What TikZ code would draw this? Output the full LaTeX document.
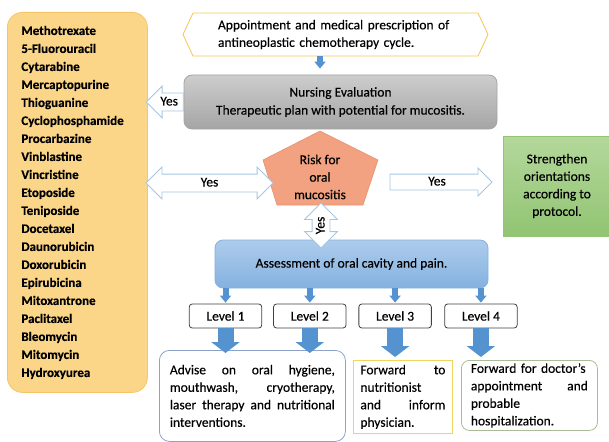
\documentclass[tikz,border=0pt]{standalone}
\usepackage{fontspec}
\setmainfont{Carlito}[FakeBold=0.4]
\usetikzlibrary{positioning,arrows.meta,shapes.arrows,shapes.symbols}

\definecolor{drugfill}{RGB}{251,214,137}
\definecolor{drugline}{RGB}{245,198,105}
\definecolor{apptline}{RGB}{240,198,85}
\definecolor{greytop}{RGB}{205,205,205}
\definecolor{greybot}{RGB}{165,165,165}
\definecolor{riskfill}{RGB}{242,162,128}
\definecolor{riskline}{RGB}{232,145,110}
\definecolor{greentop}{RGB}{180,216,155}
\definecolor{greenbot}{RGB}{145,196,115}
\definecolor{bluetop}{RGB}{174,204,236}
\definecolor{bluebot}{RGB}{132,177,223}
\definecolor{arrblue}{RGB}{84,146,208}
\definecolor{yesline}{RGB}{165,198,228}
\definecolor{advline}{RGB}{140,162,200}
\definecolor{nutline}{RGB}{240,212,95}
\definecolor{docline}{RGB}{172,186,152}

\tikzset{
  every node/.style={font=\fontsize{13.5}{17.5}\selectfont},
  box/.style={draw, line width=0.8pt, rounded corners=8pt, align=center, inner sep=0pt},
  level/.style={draw=black!75, line width=0.8pt, rounded corners=3pt, minimum width=72.5pt, minimum height=24pt, inner sep=0pt},
  outbox/.style={draw, line width=0.8pt, align=left, inner ysep=0pt, anchor=north west},
  bluearr/.style={arrblue, line width=6pt, -{Triangle[length=7pt,width=11pt]}},
  bigarr/.style={arrblue, line width=16pt, -{Triangle[length=11pt,width=28pt]}},
  yes/.style={draw=yesline, fill=white, line width=0.8pt, text height=8pt, text depth=1pt, inner xsep=0pt, inner ysep=4pt}
}

\begin{document}
\begin{tikzpicture}[x=1pt,y=-1pt]
\useasboundingbox (0,0) rectangle (609,441);

% drug list
\node[box, fill=drugfill, draw=drugline, rounded corners=15pt, anchor=north west,
  text width=112pt, inner xsep=14pt, minimum height=380pt, align=left,
  font=\bfseries\fontsize{13}{18}\selectfont] (drugs) at (7,12)
  {Methotrexate\\5-Fluorouracil\\Cytarabine\\Mercaptopurine\\Thioguanine\\Cyclophosphamide\\Procarbazine\\Vinblastine\\Vincristine\\Etoposide\\Teniposide\\Docetaxel\\Daunorubicin\\Doxorubicin\\Epirubicina\\Mitoxantrone\\Paclitaxel\\Bleomycin\\Mitomycin\\Hydroxyurea};

% main flow
\node[signal, signal to=west and east, signal pointer angle=130, draw=apptline, line width=0.8pt,
  minimum width=305pt, minimum height=43pt, text width=235pt, align=left, inner sep=0pt] (appt) at (335.5,34.5)
  {Appointment and medical prescription of\\antineoplastic chemotherapy cycle.};
\node[box, top color=greytop, bottom color=greybot, draw=greybot, minimum width=313pt, minimum height=54pt,
  font=\fontsize{13.5}{18}\selectfont] (nurse) at (340.5,102)
  {Nursing Evaluation\\Therapeutic plan with potential for mucositis.};

\draw[fill=riskfill, draw=riskline, line width=0.6pt] (320,131) -- (378,160) -- (363,205) -- (277,205) -- (263,160) -- cycle;
\node[align=center] (risk) at (320,177) {Risk for\\oral\\mucositis};

\node[box, rounded corners=0pt, top color=greentop, bottom color=greenbot, draw=greenbot,
  minimum width=108pt, minimum height=100pt] (strength) at (557,186)
  {Strengthen\\orientations\\according to\\protocol.};

\node[box, top color=bluetop, bottom color=bluebot, draw=bluebot, minimum width=273pt, minimum height=48pt] (assess) at (351.5,264)
  {Assessment of oral cavity and pain.};

% levels
\node[level] (lvl1) at (225.5,316) {Level 1};
\node[level, right=11pt of lvl1] (lvl2) {Level 2};
\node[level, right=12pt of lvl2] (lvl3) {Level 3};
\node[level, right=12.5pt of lvl3] (lvl4) {Level 4};

% outcomes
\node[outbox, draw=advline, rounded corners=10pt, text width=165pt, inner xsep=10.5pt, minimum height=91pt,
  align=justify] (adv) at (159,350)
  {Advise on oral hygiene,\linebreak mouthwash, cryotherapy,\linebreak laser therapy and nutritional\linebreak interventions.};
\node[outbox, draw=nutline, text width=85pt, inner xsep=7pt, minimum height=73pt] (nutri) at (353,360)
  {Forward\hfill to\\nutritionist\\and\hfill inform\\physician.};
\node[outbox, draw=docline, rounded corners=8pt, text width=117pt, inner xsep=9.5pt, minimum height=70pt] (doctor) at (461,360)
  {Forward for doctor's\\appointment\hfill and\\probable\\hospitalization.};

% yes arrows
\node[yes, single arrow, shape border rotate=180, single arrow head extend=7pt, minimum height=37pt, anchor=tail] (yes1) at (nurse.west) {Yes};
\node[yes, double arrow, double arrow head extend=7pt, minimum height=127pt] (yes2) at (209.5,183) {Yes};
\node[yes, single arrow, single arrow head extend=6pt, inner ysep=3pt, minimum height=102pt] (yes3) at (437,182) {Yes};
\node[yes, double arrow, double arrow head extend=7.5pt, minimum height=45pt, rotate=90] (yes4) at (321,225.5) {Yes};

% blue arrows
\draw[bluearr, shorten >=6pt] (appt.south -| risk) -- (nurse.north -| risk);
\draw[bluearr, shorten >=1pt] (assess.south -| lvl1) -- (lvl1.north);
\draw[bluearr, shorten >=1pt] (assess.south -| lvl2) -- (lvl2.north);
\draw[bluearr, shorten >=1pt] (assess.south -| lvl3) -- (lvl3.north);
\draw[bluearr, shorten >=1pt] (assess.south -| lvl4) -- (lvl4.north);
\draw[bigarr, shorten >=-3pt] (lvl1.south) -- (lvl1.south |- adv.north);
\draw[bigarr, shorten >=-3pt] (lvl2.south) -- (lvl2.south |- adv.north);
\draw[bigarr, shorten >=3pt] (lvl3.south) -- (lvl3.south |- nutri.north);
\draw[bigarr, shorten >=3pt] (lvl4.south) -- (lvl4.south |- doctor.north);
\end{tikzpicture}
\end{document}
